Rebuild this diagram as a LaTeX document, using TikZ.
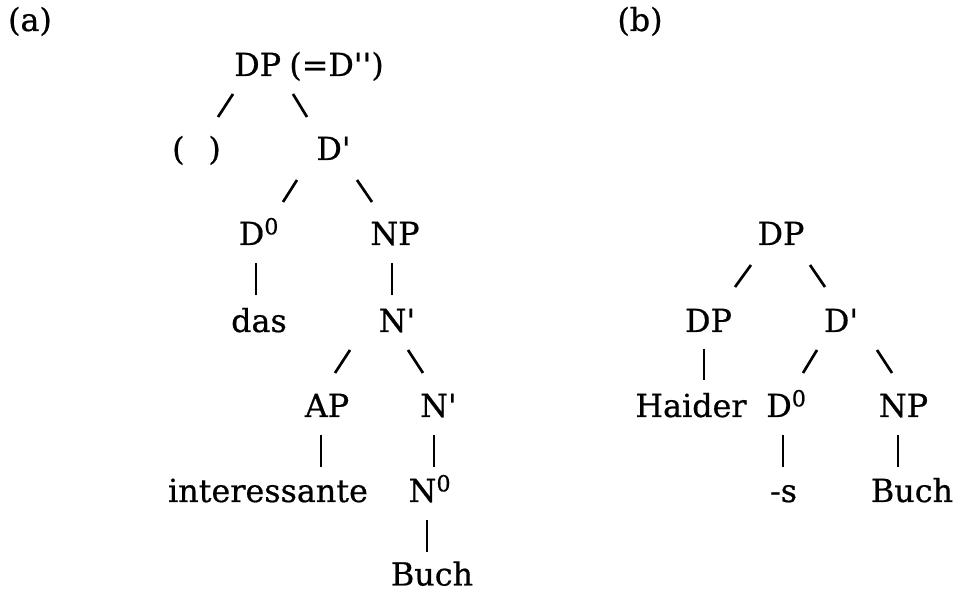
\documentclass[tikz,border=0pt]{standalone}
\usepackage{fontspec}
\setmainfont{DejaVu Serif}[FakeBold=0.6]
\usetikzlibrary{positioning}

\begin{document}
\begin{tikzpicture}[x=0.025cm, y=-0.025cm,
    lbl/.style={anchor=base, inner sep=0pt, font=\fontsize{22.6}{27}\selectfont},
    edge/.style={line width=1.9pt},
    pipe/.style={line width=1.4pt}]
    \useasboundingbox (0,0) rectangle (956,589);

    % (a)
    \node[lbl] (taga)   at (30,31)    {(a)};
    \node[lbl] (dpa)    at (309,76)   {DP\hspace{0.26em}(=D\textquotesingle\textquotesingle)};
    \node[lbl] (paren)  at (196.5,160) {(\hspace{0.75em})};
    \node[lbl] (dbara)  at (333.5,160) {D\textquotesingle};
    \node[lbl] (dzeroa) at (259,245)  {D\textsuperscript{0}};
    \node[lbl] (npa)    at (395,245)  {NP};
    \node[lbl] (das)    at (259,332)  {das};
    \node[lbl] (nbara)  at (397,332)  {N\textquotesingle};
    \node[lbl] (apa)    at (327,417)  {AP};
    \node[lbl] (nbarb)  at (438.5,417) {N\textquotesingle};
    \node[lbl] (inter)  at (268,502)  {interessante};
    \node[lbl] (nzero)  at (430,502)  {N\textsuperscript{0}};
    \node[lbl] (bucha)  at (432,585.5) {Buch};

    \draw[edge] ([shift={(-76,18)}]dpa.base) -- ([shift={(21.5,-43)}]paren.base);
    \draw[edge] ([shift={(-16,18)}]dpa.base) -- ([shift={(-26.5,-43)}]dbara.base);
    \draw[edge] ([shift={(-36.5,20)}]dbara.base) -- ([shift={(24,-43)}]dzeroa.base);
    \draw[edge] ([shift={(23.5,20)}]dbara.base) -- ([shift={(-23,-43)}]npa.base);
    \draw[pipe] ([shift={(-3,18)}]dzeroa.base) -- ([shift={(-3,-37)}]das.base);
    \draw[pipe] ([shift={(-3,18)}]npa.base) -- ([shift={(-5,-37)}]nbara.base);
    \draw[edge] ([shift={(-47,18)}]nbara.base) -- ([shift={(8,-44)}]apa.base);
    \draw[edge] ([shift={(11,18)}]nbara.base) -- ([shift={(-15.5,-44)}]nbarb.base);
    \draw[pipe] ([shift={(-6,18)}]apa.base) -- ([shift={(53,-35)}]inter.base);
    \draw[pipe] ([shift={(-4.5,18)}]nbarb.base) -- ([shift={(4,-35)}]nzero.base);
    \draw[pipe] ([shift={(-3,18)}]nzero.base) -- ([shift={(-5,-33.5)}]bucha.base);

    % (b)
    \node[lbl] (tagb)   at (640,31)   {(b)};
    \node[lbl] (dpb)    at (781,245)  {DP};
    \node[lbl] (dpc)    at (708.5,332) {DP};
    \node[lbl] (dbarb)  at (841,332)  {D\textquotesingle};
    \node[lbl] (haider) at (691,417)  {Haider};
    \node[lbl] (dzerob) at (786.5,417) {D\textsuperscript{0}};
    \node[lbl] (npb)    at (903.5,417) {NP};
    \node[lbl] (suffix) at (783.5,502) {-s};
    \node[lbl] (buchb)  at (912,502)  {Buch};

    \draw[edge] ([shift={(-30,20)}]dpb.base) -- ([shift={(26.5,-45)}]dpc.base);
    \draw[edge] ([shift={(29,20)}]dpb.base) -- ([shift={(-16,-45)}]dbarb.base);
    \draw[pipe] ([shift={(-4.5,17)}]dpc.base) -- ([shift={(13,-37)}]haider.base);
    \draw[edge] ([shift={(-24,18)}]dbarb.base) -- ([shift={(16.5,-44)}]dzerob.base);
    \draw[edge] ([shift={(36,18)}]dbarb.base) -- ([shift={(-11.5,-44)}]npb.base);
    \draw[pipe] ([shift={(-3.5,18)}]dzerob.base) -- ([shift={(-0.5,-35)}]suffix.base);
    \draw[pipe] ([shift={(-5.5,18)}]npb.base) -- ([shift={(-14,-35)}]buchb.base);
\end{tikzpicture}
\end{document}
